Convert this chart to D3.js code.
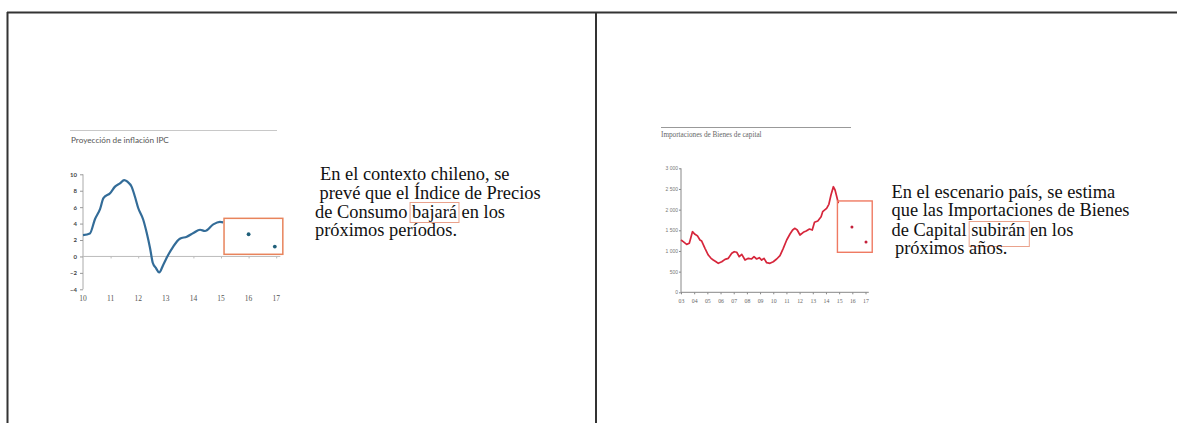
<!DOCTYPE html>
<html>
<head>
<meta charset="utf-8">
<script src="https://cdn.jsdelivr.net/npm/d3@7"></script>
<style>
  html, body { margin: 0; padding: 0; background: #fff; }
  svg { display: block; }
</style>
</head>
<body>
<svg id="page" width="1177" height="423"></svg>
<script>
// ---- Proyección de inflación IPC (var. % anual) ----
const ipcTime = [2010.0, 2010.25, 2010.43, 2010.62, 2010.74, 2010.98, 2011.16, 2011.34, 2011.49, 2011.61,
  2011.76, 2011.88, 2012.0, 2012.18, 2012.31, 2012.43, 2012.53, 2012.64, 2012.76, 2012.91,
  2013.09, 2013.27, 2013.51, 2013.76, 2014.0, 2014.24, 2014.42, 2014.72, 2014.96, 2015.08];
const ipcValues = [2.6, 2.8, 4.5, 5.8, 7.1, 7.7, 8.5, 8.9, 9.3, 9.1,
  8.5, 7.3, 5.9, 4.5, 2.85, 1.0, -0.8, -1.4, -1.95, -1.0,
  0.2, 1.2, 2.15, 2.4, 2.85, 3.25, 3.1, 3.9, 4.2, 4.15];
const ipcProjTime = [2016.0, 2016.95];
const ipcProjValues = [2.7, 1.2];
const ipcYTicks = [-4, -2, 0, 2, 4, 6, 8, 10];
const ipcXTicks = [2010, 2011, 2012, 2013, 2014, 2015, 2016, 2017];
const ipcProjBox = { t0: 2015.11, t1: 2017.24, v0: 0.26, v1: 4.64 };

// ---- Importaciones de bienes de capital (US$ millones) ----
const impTime = [2003.0, 2003.17, 2003.43, 2003.63, 2003.87, 2004.06, 2004.24, 2004.44, 2004.57, 2004.82,
  2005.07, 2005.28, 2005.45, 2005.66, 2005.83, 2006.09, 2006.34, 2006.59, 2006.85, 2007.04,
  2007.23, 2007.42, 2007.61, 2007.86, 2008.11, 2008.36, 2008.54, 2008.74, 2008.94, 2009.12,
  2009.30, 2009.50, 2009.75, 2010.0, 2010.26, 2010.51, 2010.76, 2011.02, 2011.27, 2011.47,
  2011.65, 2011.82, 2012.03, 2012.28, 2012.50, 2012.75, 2012.96, 2013.13, 2013.38, 2013.63,
  2013.75, 2014.05, 2014.22, 2014.38, 2014.56, 2014.69, 2014.82, 2014.94];
const impValues = [1265, 1225, 1160, 1185, 1466, 1403, 1370, 1265, 1240, 1064,
  902, 822, 781, 740, 701, 740, 798, 822, 943, 982,
  968, 861, 919, 781, 822, 806, 861, 806, 837, 781,
  822, 716, 701, 740, 806, 885, 1064, 1265, 1410, 1507,
  1548, 1507, 1386, 1451, 1483, 1531, 1507, 1693, 1725, 1829,
  1950, 2032, 2129, 2354, 2554, 2475, 2313, 2153];
const impProjTime = [2015.97, 2017.04];
const impProjValues = [1580, 1217];
const impYTicks = [0, 500, 1000, 1500, 2000, 2500, 3000];
const impXTicks = d3.range(2003, 2018);
const impProjBox = { t0: 2014.87, t1: 2017.51, v0: 968, v1: 2210 };

// ---- Texto de las diapositivas ----
const leftText = ["En el contexto chileno, se", "prevé que el Índice de Precios", "de Consumo bajará en los", "próximos períodos."];
const leftWord = "bajará";
const rightText = ["En el escenario país, se estima", "que las Importaciones de Bienes", "de Capital subirán en los", "próximos años."];
const rightWord = "subirán";

const svg = d3.select("#page");
svg.append("rect").attr("width", 1177).attr("height", 423).attr("fill", "#fff");

// Frame of the two-column table
const frame = svg.append("g").attr("stroke", "#333").attr("stroke-width", 2).attr("fill", "none");
frame.append("line").attr("x1", 7).attr("x2", 1177).attr("y1", 12.5).attr("y2", 12.5);
frame.append("line").attr("x1", 7.5).attr("x2", 7.5).attr("y1", 12).attr("y2", 423);
frame.append("line").attr("x1", 596).attr("x2", 596).attr("y1", 12).attr("y2", 423);

const spaceFmt = d3.formatLocale({ decimal: ",", thousands: " ", grouping: [3], currency: ["", ""] }).format(",");

// ================= Left chart =================
{
  const g = svg.append("g");
  g.append("line").attr("x1", 70).attr("x2", 277).attr("y1", 130.5).attr("y2", 130.5)
    .attr("stroke", "#c8c8c8").attr("stroke-width", 1);
  g.append("text").attr("x", 71).attr("y", 143).text("Proyección de inflación IPC")
    .attr("font-family", "Lato, 'Open Sans', sans-serif").attr("font-size", 8.2).attr("fill", "#555");

  const x = d3.scaleLinear().domain([2010, 2017]).range([83, 276.2]);
  const y = d3.scaleLinear().domain([-4, 10]).range([289.3, 174.3]);

  // y axis
  const ya = g.append("g").attr("transform", `translate(${x(2010)},0)`)
    .call(d3.axisLeft(y).tickValues(ipcYTicks).tickSize(3).tickPadding(3).tickFormat(d3.format("d")));
  ya.select(".domain").attr("stroke", "#aaa").attr("d", `M0,${y(10)}V${y(-4)}`);
  ya.selectAll(".tick line").attr("stroke", "#999");
  ya.selectAll(".tick text").attr("font-family", "Lato, sans-serif").attr("font-size", 6)
    .attr("font-weight", 700).attr("fill", "#444");

  // zero line with year ticks
  const za = g.append("g").attr("transform", `translate(0,${y(0)})`)
    .call(d3.axisBottom(x).tickValues(ipcXTicks.slice(1)).tickSize(2).tickFormat(""));
  za.select(".domain").attr("stroke", "#bbb").attr("d", `M${x(2010)},0H${x(2017.15)}`);
  za.selectAll(".tick line").attr("stroke", "#bbb");

  // year labels along the bottom
  g.append("g").selectAll("text").data(ipcXTicks).join("text")
    .attr("x", d => x(d)).attr("y", 300.5).attr("text-anchor", "middle")
    .attr("font-family", "'Liberation Serif', serif").attr("font-size", 7.5).attr("fill", "#555")
    .text(d => String(d % 100).padStart(2, "0"));

  const line = d3.line().x((d, i) => x(ipcTime[i])).y(d => y(d)).curve(d3.curveMonotoneX);
  g.append("path").datum(ipcValues).attr("d", line).attr("fill", "none")
    .attr("stroke", "#336c98").attr("stroke-width", 2.2).attr("stroke-linejoin", "round");

  g.append("g").selectAll("circle").data(ipcProjValues).join("circle")
    .attr("cx", (d, i) => x(ipcProjTime[i])).attr("cy", d => y(d)).attr("r", 1.9).attr("fill", "#1f5f7a");

  g.append("rect")
    .attr("x", x(ipcProjBox.t0)).attr("y", y(ipcProjBox.v1))
    .attr("width", x(ipcProjBox.t1) - x(ipcProjBox.t0)).attr("height", y(ipcProjBox.v0) - y(ipcProjBox.v1))
    .attr("fill", "none").attr("stroke", "#e8845c").attr("stroke-width", 1.5);
}

// ================= Right chart =================
{
  const g = svg.append("g");
  g.append("line").attr("x1", 661).attr("x2", 851).attr("y1", 127.5).attr("y2", 127.5)
    .attr("stroke", "#999").attr("stroke-width", 1);
  g.append("text").attr("x", 661).attr("y", 136.5).text("Importaciones de Bienes de capital")
    .attr("font-family", "'Liberation Serif', serif").attr("font-size", 7.2).attr("fill", "#666");

  const x = d3.scaleLinear().domain([2003, 2017]).range([681, 865.5]);
  const y = d3.scaleLinear().domain([0, 3000]).range([292.3, 168.3]);

  const ya = g.append("g").attr("transform", `translate(${x(2003)},0)`)
    .call(d3.axisLeft(y).tickValues(impYTicks).tickSize(2).tickPadding(1).tickFormat(spaceFmt));
  ya.select(".domain").attr("stroke", "#888").attr("d", `M0,${y(3000)}V${y(0)}`);
  ya.selectAll(".tick line").attr("stroke", "#888");
  ya.selectAll(".tick text").attr("font-family", "'Liberation Sans', sans-serif").attr("font-size", 5)
    .attr("fill", "#777");

  const xa = g.append("g").attr("transform", `translate(0,${y(0)})`)
    .call(d3.axisBottom(x).tickValues(impXTicks).tickSize(2).tickPadding(5)
      .tickFormat(d => String(d % 100).padStart(2, "0")));
  xa.select(".domain").attr("stroke", "#888").attr("d", `M${x(2003)},0H${x(2017.25)}`);
  xa.selectAll(".tick line").attr("stroke", "#888");
  xa.selectAll(".tick text").attr("font-family", "'Liberation Serif', serif").attr("font-size", 5.8)
    .attr("fill", "#666");

  const line = d3.line().x((d, i) => x(impTime[i])).y(d => y(d));
  g.append("path").datum(impValues).attr("d", line).attr("fill", "none")
    .attr("stroke", "#d6263b").attr("stroke-width", 1.7).attr("stroke-linejoin", "round");

  g.append("g").selectAll("circle").data(impProjValues).join("circle")
    .attr("cx", (d, i) => x(impProjTime[i])).attr("cy", d => y(d)).attr("r", 1.5).attr("fill", "#c4203a");

  g.append("rect")
    .attr("x", x(impProjBox.t0)).attr("y", y(impProjBox.v1))
    .attr("width", x(impProjBox.t1) - x(impProjBox.t0)).attr("height", y(impProjBox.v0) - y(impProjBox.v1))
    .attr("fill", "none").attr("stroke", "#ef7a62").attr("stroke-width", 1.4);
}

// ================= Text blocks =================
function textBlock(lines, xs, baselines, word, wordLine, boxTop, boxBottom, padR) {
  const g = svg.append("g").attr("font-family", "'Liberation Serif', 'Times New Roman', serif")
    .attr("font-size", 18.4).attr("fill", "#111");
  lines.forEach((s, i) => {
    const t = g.append("text").attr("x", xs[i]).attr("y", baselines[i]).text(s);
    if (i === wordLine) {
      const node = t.node();
      const k = s.indexOf(word);
      const x0 = node.getStartPositionOfChar(k).x;
      const x1 = node.getEndPositionOfChar(k + word.length - 1).x;
      g.append("rect").attr("x", x0 - 2).attr("y", baselines[i] - boxTop)
        .attr("width", x1 - x0 + 2 + padR).attr("height", boxTop + boxBottom)
        .attr("fill", "none").attr("stroke", "#eaa28c").attr("stroke-width", 1);
    }
  });
}
textBlock(leftText, [320, 319.5, 315, 315], [180, 198.5, 217.5, 235.5], leftWord, 2, 15, 5, 2);
textBlock(rightText, [891.5, 891.5, 891.5, 895], [197.5, 216, 235.5, 253.5], rightWord, 2, 14, 11, 4);
</script>
</body>
</html>
